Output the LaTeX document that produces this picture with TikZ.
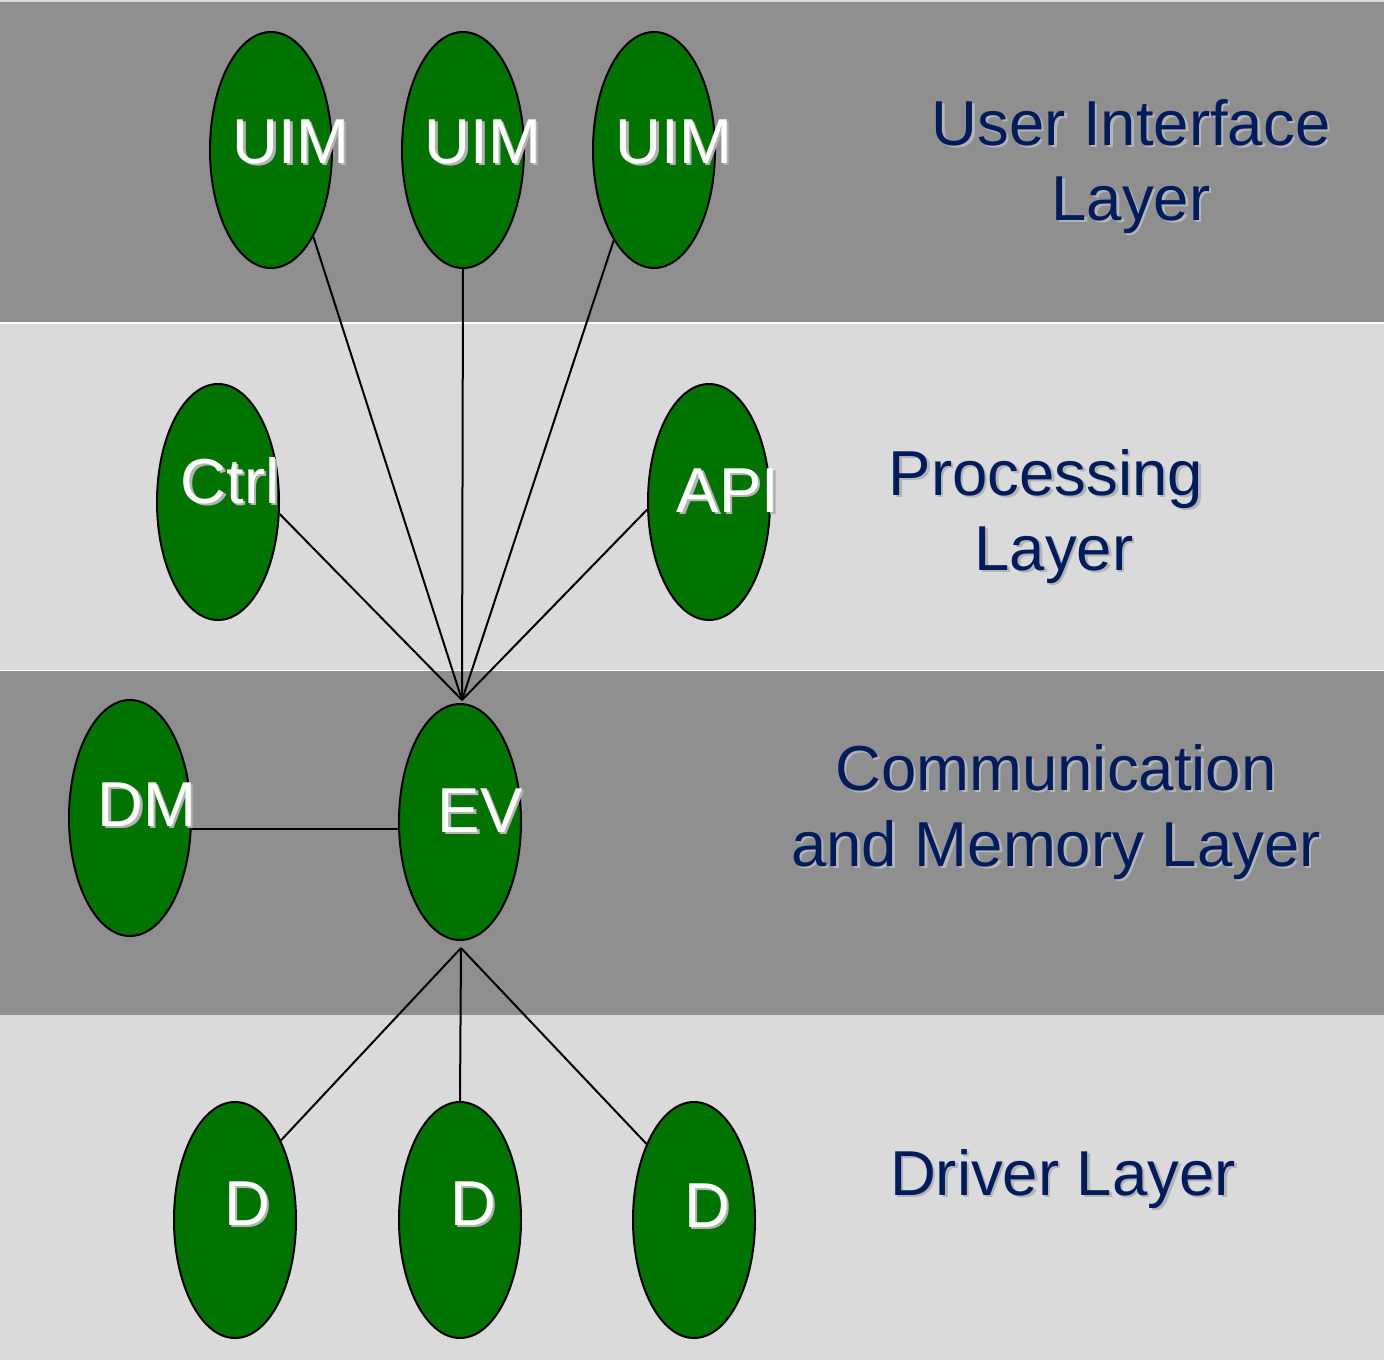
\documentclass[tikz,border=0pt]{standalone}
\usepackage{fontspec}
\setmainfont{Liberation Sans}
\usetikzlibrary{shapes.geometric}
\definecolor{banddark}{HTML}{8F8F8F}
\definecolor{bandlight}{HTML}{DADADA}
\definecolor{modgreen}{HTML}{007300}
\definecolor{layernavy}{HTML}{001C5C}
\definecolor{txtshadow}{HTML}{B4B4B4}
\tikzset{
  module/.style={ellipse, draw=black, line width=2pt, fill=modgreen,
    minimum width=122pt, minimum height=236pt, inner sep=0pt},
  link/.style={draw=black, line width=2pt},
  bigfont/.style={font=\fontsize{63.5}{75}\selectfont, inner sep=0pt, anchor=base},
  modtext/.style={bigfont, text=white},
  layertext/.style={bigfont, text=layernavy, align=center},
  shadowtext/.style={bigfont, text=txtshadow},
}
% text with a soft drop shadow: #1 name, #2 position, #3 style, #4 text
\newcommand{\shadowlabel}[4]{%
  \node[shadowtext, align=center] (#1s) at ([shift={(2.5,2.5)}]#2) {#4};
  \node[#3] (#1) at (#2) {#4};
}
\begin{document}
\begin{tikzpicture}[x=1pt, y=-1pt]
  \useasboundingbox (0,0) rectangle (1384,1360);
  % layer bands
  \fill[bandlight] (0,0) rectangle (1384,1360);
  \fill[banddark] (0,1.5) rectangle (1384,322);
  \fill[bandlight] (0,323.5) rectangle (1384,669.5);
  \fill[banddark] (0,671) rectangle (1384,1014.5);
  \fill[white] (0,322) rectangle (1384,323.5);
  \fill[white] (0,669.5) rectangle (1384,671);

  % hub points where the connectors meet
  \coordinate (hubtop) at (462,700);
  \coordinate (hubbot) at (461,948);

  % modules
  \node[module] (uim1) at (271,150) {};
  \node[module] (uim2) at (463,150) {};
  \node[module] (uim3) at (654,150) {};
  \node[module] (ctrl) at (218,502) {};
  \node[module] (api)  at (709,502) {};
  \node[module] (dm)   at (130,818) {};
  \node[module] (ev)   at (460,822) {};
  \node[module] (d1)   at (235,1220) {};
  \node[module] (d2)   at (460,1220) {};
  \node[module] (d3)   at (694,1220) {};

  % connectors
  \draw[link] (uim1.-64) -- (hubtop);
  \draw[link] (uim2.south) -- (hubtop);
  \draw[link] (uim3.-114) -- (hubtop);
  \draw[link] (ctrl.-11) -- (hubtop);
  \draw[link] (api.187) -- (hubtop);
  \draw[link] (dm.east |- 0,829) -- (ev.west |- 0,829);
  \draw[link] (hubbot) -- (d1.60);
  \draw[link] (hubbot) -- (d2.north);
  \draw[link] (hubbot) -- (d3.122);

  % module labels
  \shadowlabel{tuim1}{291,163}{modtext}{UIM}
  \shadowlabel{tuim2}{483,163}{modtext}{UIM}
  \shadowlabel{tuim3}{674,163}{modtext}{UIM}
  \shadowlabel{tctrl}{230,503}{modtext}{Ctrl}
  \shadowlabel{tapi}{728,512}{modtext}{API}
  \shadowlabel{tdm}{147,826}{modtext}{DM}
  \shadowlabel{tev}{480,832}{modtext}{EV}
  \shadowlabel{td1}{247,1225}{modtext}{D}
  \shadowlabel{td2}{473,1225}{modtext}{D}
  \shadowlabel{td3}{707,1227}{modtext}{D}

  % layer titles
  \shadowlabel{lui1}{1131,145}{layertext}{User Interface}
  \shadowlabel{lui2}{1131,220}{layertext}{Layer}
  \shadowlabel{lpr1}{1046,495}{layertext}{Processing}
  \shadowlabel{lpr2}{1054,570}{layertext}{Layer}
  \shadowlabel{lcm1}{1056,790}{layertext}{Communication}
  \shadowlabel{lcm2}{1056,866}{layertext}{and Memory Layer}
  \shadowlabel{ldr}{1063,1195}{layertext}{Driver Layer}
\end{tikzpicture}
\end{document}
